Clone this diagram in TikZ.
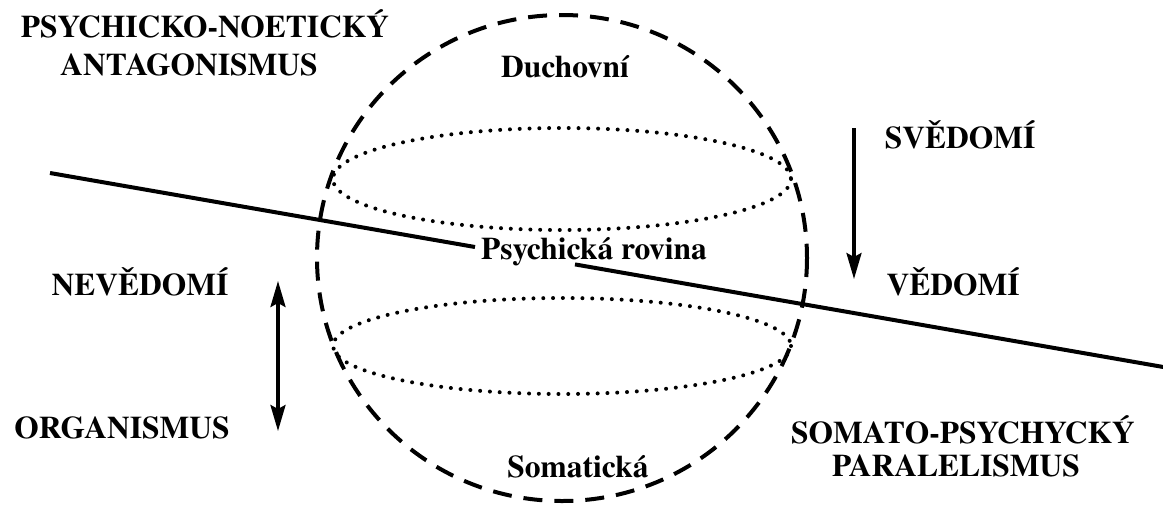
\documentclass[tikz,border=0pt]{standalone}
\usepackage{fontspec}
\newfontfamily\tnr{TeX Gyre Termes}
\usetikzlibrary{arrows.meta}
\begin{document}
\begin{tikzpicture}[x=1pt,y=-1pt,
  lbl/.style={font=\tnr\bfseries\fontsize{31.5}{31.5}\selectfont, inner sep=0pt, anchor=base},
  dashcirc/.style={line width=4pt, dash pattern=on 19pt off 12pt},
  dotell/.style={line width=4pt, line cap=round, dash pattern=on 0pt off 9.8pt},
  plane/.style={line width=4pt},
  arr/.style={line width=3.2pt, -{Stealth[length=26pt,width=15pt,inset=4pt]}},
  darr/.style={line width=3.2pt, {Stealth[length=26pt,width=15pt,inset=4pt]}-{Stealth[length=26pt,width=15pt,inset=4pt]}}
]
\useasboundingbox (0,0) rectangle (1163,507);
% sphere
\draw[dashcirc] (562,258) ellipse [x radius=245, y radius=243];
\draw[dotell] (562,179) ellipse [x radius=229, y radius=51];
\draw[dotell] (562,346) ellipse [x radius=229, y radius=48];
% plane line
\coordinate (L1) at (50,173);
\coordinate (L2) at (475,247);
\coordinate (R1) at (575,264.4);
\coordinate (R2) at (1165,367.3);
\draw[plane] (L1) -- (L2);
\draw[plane] (R1) -- (R2);
% arrows
\coordinate (A1) at (854,128);
\coordinate (A2) at (854,279);
\draw[arr] (A1) -- (A2);
\coordinate (B1) at (278,281);
\coordinate (B2) at (278,431);
\draw[darr] (B1) -- (B2);
% labels
\node[lbl] (pn1) at (205,37) {PSYCHICKO-NOETICKÝ};
\node[lbl] (pn2) at (189,75) {ANTAGONISMUS};
\node[lbl] (duch) at (565,77) {Duchovní};
\node[lbl] (sved) at (960,148) {SVĚDOMÍ};
\node[lbl] (psy) at (594,259) {Psychická rovina};
\node[lbl] (ved) at (953,295) {VĚDOMÍ};
\node[lbl] (neved) at (140,295) {NEVĚDOMÍ};
\node[lbl] (org) at (122,438) {ORGANISMUS};
\node[lbl] (som) at (578,477) {Somatická};
\node[lbl] (sp1) at (963,443) {SOMATO-PSYCHYCKÝ};
\node[lbl] (sp2) at (956,476) {PARALELISMUS};
\end{tikzpicture}
\end{document}
